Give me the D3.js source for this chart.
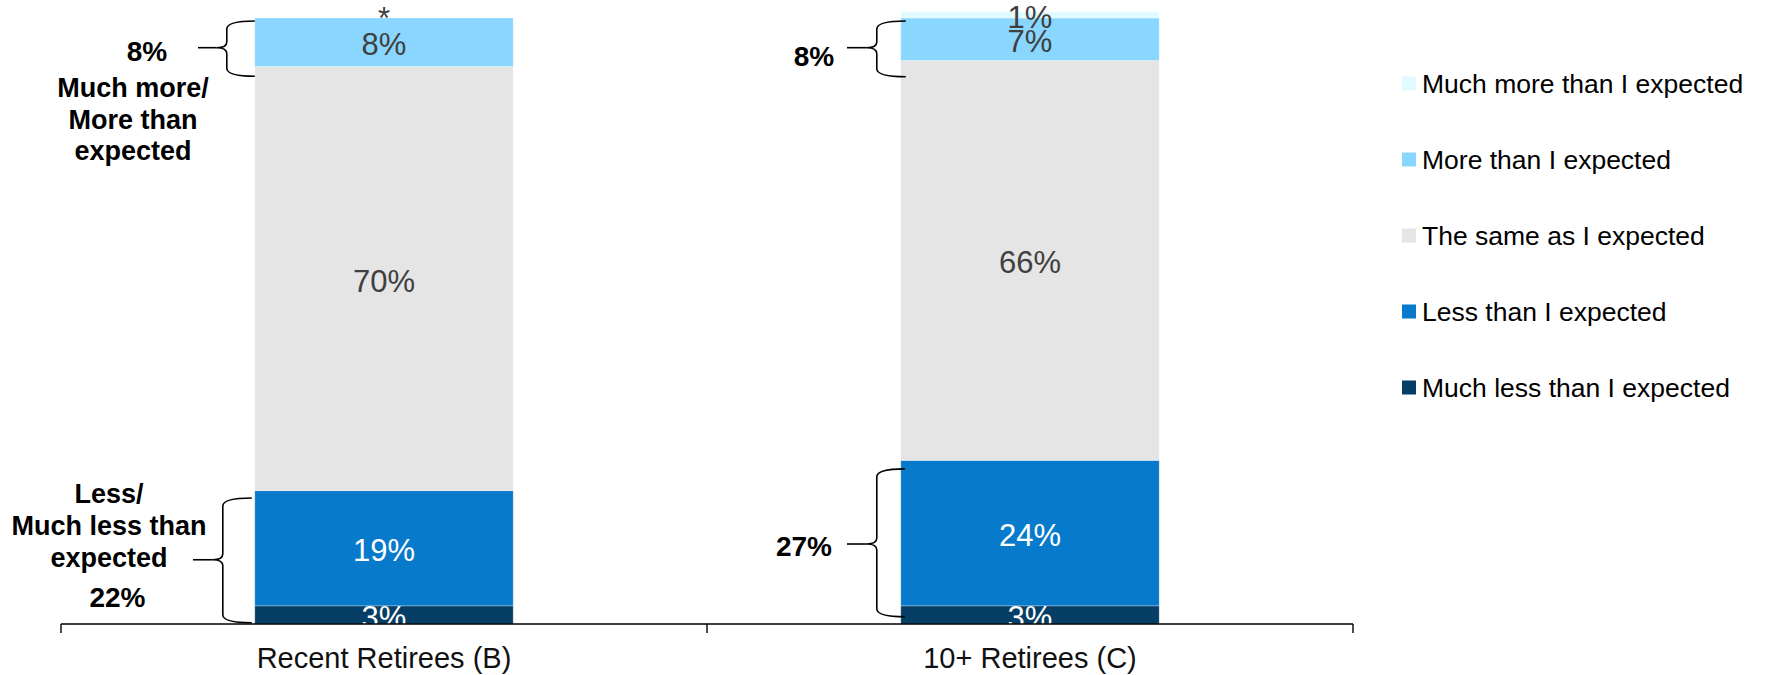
<!DOCTYPE html>
<html><head><meta charset="utf-8">
<script src="https://cdn.jsdelivr.net/npm/d3@7"></script>
<style>
html,body{margin:0;padding:0;background:#fff;}
svg{display:block;font-family:"Liberation Sans",Arial,sans-serif;}
</style></head>
<body><svg id="chart" width="1766" height="675"></svg>
<script>
// ---- data ----
const categories = ["Recent Retirees (B)", "10+ Retirees (C)"];
const seriesNames = ["Much less than I expected", "Less than I expected", "The same as I expected", "More than I expected", "Much more than I expected"];
const muchLess = [3, 3];
const less = [19, 24];
const same = [70, 66];
const more = [8, 7];
const muchMore = [0, 1];
const seriesColors = ["#063E66", "#077ACC", "#E5E5E5", "#89D7FF", "#E0FBFF"];
const labelColors = ["#ffffff", "#ffffff", "#404040", "#404040", "#404040"];
const legendOrder = ["Much more than I expected", "More than I expected", "The same as I expected", "Less than I expected", "Much less than I expected"];
const netMore = ["8%", "8%"];
const netLess = ["22%", "27%"];

// ---- layout ----
const svg = d3.select("#chart");
const x = d3.scaleBand().domain(categories).range([61, 1353]);
const y = d3.scaleLinear().domain([0, 100]).range([624, 18]);
const barW = x.bandwidth() * 0.4;

const rows = categories.map((c, i) => ({
  cat: c,
  [seriesNames[0]]: muchLess[i], [seriesNames[1]]: less[i], [seriesNames[2]]: same[i],
  [seriesNames[3]]: more[i], [seriesNames[4]]: muchMore[i]
}));
const stacked = d3.stack().keys(seriesNames)(rows);

svg.append("defs").append("clipPath").attr("id", "plotclip")
  .append("rect").attr("x", 0).attr("y", 0).attr("width", 1766).attr("height", y(0));

const gBars = svg.append("g");
stacked.forEach((layer, si) => {
  gBars.selectAll(null).data(layer).enter().append("rect")
    .attr("x", d => x(d.data.cat) + (x.bandwidth() - barW) / 2)
    .attr("width", barW)
    .attr("y", d => y(d[1]))
    .attr("height", d => y(d[0]) - y(d[1]))
    .attr("fill", seriesColors[si])
    .attr("stroke", "#ffffff").attr("stroke-opacity", 0.35).attr("stroke-width", 0.8);
});

const gLab = svg.append("g").attr("clip-path", "url(#plotclip)");
stacked.forEach((layer, si) => {
  gLab.selectAll(null).data(layer).enter().append("text")
    .attr("x", d => x(d.data.cat) + x.bandwidth() / 2)
    .attr("y", d => {
      const v = d[1] - d[0];
      return v === 0 ? y(d[1]) + 11 : (y(d[0]) + y(d[1])) / 2 + 13;
    })
    .attr("text-anchor", "middle")
    .attr("font-size", 31)
    .attr("fill", labelColors[si])
    .text(d => { const v = d[1] - d[0]; return v === 0 ? "*" : v + "%"; });
});

// ---- axis ----
const gAxis = svg.append("g").attr("transform", `translate(0,${y(0)})`);
gAxis.append("line").attr("x1", x.range()[0]).attr("x2", x.range()[1])
  .attr("y1", 0).attr("y2", 0).attr("stroke", "#000").attr("stroke-width", 1.4);
const tickXs = [x(categories[0]), x(categories[1]), x(categories[1]) + x.bandwidth()];
gAxis.selectAll(null).data(tickXs).enter().append("line")
  .attr("x1", d => d).attr("x2", d => d).attr("y1", 0).attr("y2", 9)
  .attr("stroke", "#000").attr("stroke-width", 1.4);
gAxis.selectAll(null).data(categories).enter().append("text")
  .attr("x", d => x(d) + x.bandwidth() / 2).attr("y", 44)
  .attr("text-anchor", "middle").attr("font-size", 29).attr("fill", "#111")
  .text(d => d);

// ---- legend ----
const gLeg = svg.append("g");
legendOrder.forEach((name, i) => {
  const cy = 83.5 + i * 76;
  const ci = seriesNames.indexOf(name);
  gLeg.append("rect").attr("x", 1402).attr("y", cy - 7).attr("width", 14).attr("height", 14)
    .attr("fill", seriesColors[ci]);
  gLeg.append("text").attr("x", 1422).attr("y", cy + 9.5).attr("font-size", 26.5)
    .attr("fill", "#000").text(name);
});

// ---- braces ----
function brace(xArm, xV, yTop, yBot, yTip, lineFrom) {
  const r = 8, r2 = 6, tipX = xV - 10;
  const p = `M${xArm},${yTop} Q${xV},${yTop} ${xV},${yTop + r} L${xV},${yTip - r2} ` +
    `Q${xV},${yTip} ${tipX},${yTip} Q${xV},${yTip} ${xV},${yTip + r2} ` +
    `L${xV},${yBot - r} Q${xV},${yBot} ${xArm},${yBot}`;
  svg.append("path").attr("d", p).attr("fill", "none").attr("stroke", "#000").attr("stroke-width", 1.6);
  svg.append("line").attr("x1", lineFrom).attr("x2", tipX).attr("y1", yTip).attr("y2", yTip)
    .attr("stroke", "#000").attr("stroke-width", 1.6);
}
const b1L = x(categories[0]) + (x.bandwidth() - barW) / 2;
const b2L = x(categories[1]) + (x.bandwidth() - barW) / 2;
brace(b1L, b1L - 28, y(99.5), y(90.4), y(95.1), 198);
brace(b1L - 3, b1L - 32, y(20.8), y(0.2), y(10.6), 193);
brace(b2L + 5, b2L - 24, y(99.5), y(90.3), y(95.1), 847);
brace(b2L + 4, b2L - 24, y(25.6), y(1.2), y(13.2), 847);

function boldText(tx, ty, txt, fs) {
  svg.append("text").attr("x", tx).attr("y", ty).attr("text-anchor", "middle")
    .attr("font-size", fs).attr("font-weight", "bold").attr("fill", "#000").text(txt);
}
boldText(147, 61, netMore[0], 28);
["Much more/", "More than", "expected"].forEach((t, i) => boldText(133, 97 + i * 31.5, t, 27));
["Less/", "Much less than", "expected"].forEach((t, i) => boldText(109, 503 + i * 32, t, 27));
boldText(117.5, 607, netLess[0], 28);
boldText(814, 66, netMore[1], 28);
boldText(804, 556, netLess[1], 28);
</script></body></html>
